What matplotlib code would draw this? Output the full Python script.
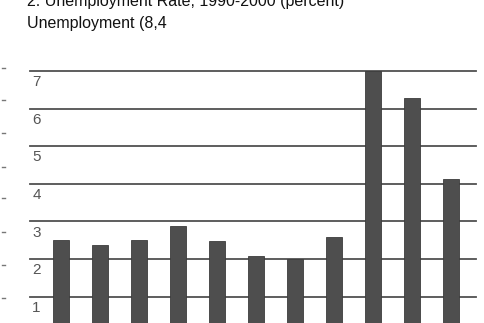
import matplotlib
matplotlib.use("Agg")
import matplotlib.pyplot as plt
import matplotlib.transforms as mtransforms
from matplotlib.lines import Line2D

years = ["1990", "1991", "1992", "1993", "1994", "1995", "1996", "1997", "1998", "1999", "2000"]
unemployment = [2.5, 2.37, 2.5, 2.87, 2.49, 2.09, 2.0, 2.58, 7.0, 6.27, 4.13]
ytick_values = [1, 2, 3, 4, 5, 6, 7]
ytick_labels = ["1", "2", "3", "4", "5", "6", "7"]
title_line1 = "2. Unemployment Rate, 1990-2000 (percent)"
title_line2 = "Unemployment (8,4"

FONT = ["Liberation Sans Narrow", "Liberation Sans", "DejaVu Sans"]

W, H = 484, 323
fig = plt.figure(figsize=(W / 100, H / 100), dpi=100)
fig.patch.set_facecolor("white")

left, right, top, bottom = 30, 476, 71, 323
ax = fig.add_axes([left / W, 1 - bottom / H, (right - left) / W, (bottom - top) / H])
ax.set_facecolor("white")

x = list(range(len(years)))
ax.set_xlim(-0.796, 10.65)
ax.set_ylim(0.30, 7.0)

# gridlines
for v in ytick_values:
    ax.axhline(v, color="#505050", lw=1.3, zorder=1, clip_on=False)

ax.bar(x, unemployment, width=0.41, color="#4e4e4e", edgecolor="#3c3c3c",
       linewidth=0.6, zorder=2, clip_on=False)

trans = mtransforms.blended_transform_factory(ax.transAxes, ax.transData)
for v, lab in zip(ytick_values, ytick_labels):
    ax.text(0.005, v - 0.11, lab, transform=trans, ha="left", va="top",
            fontsize=11, color="#555555", family=FONT)

ax.set_xticks(x)
ax.set_xticklabels(years)
ax.tick_params(axis="both", length=0, labelbottom=False, labelleft=False)
ax.set_yticks([])
for s in ax.spines.values():
    s.set_visible(False)

# titles
fig.text(27 / W, 1 - 6 / H, title_line1, ha="left", va="baseline",
         fontsize=11.5, color="#111111", family=FONT)
fig.text(27 / W, 1 - 28 / H, title_line2, ha="left", va="baseline",
         fontsize=11.5, color="#111111", family=FONT)

# small scan marks at left edge
for yy in [68, 100, 133, 167, 198, 232, 265, 298]:
    fig.add_artist(Line2D([2 / W, 5 / W], [1 - yy / H, 1 - yy / H],
                          transform=fig.transFigure, color="#777777", lw=1))

fig.savefig("out.png", dpi=100)
